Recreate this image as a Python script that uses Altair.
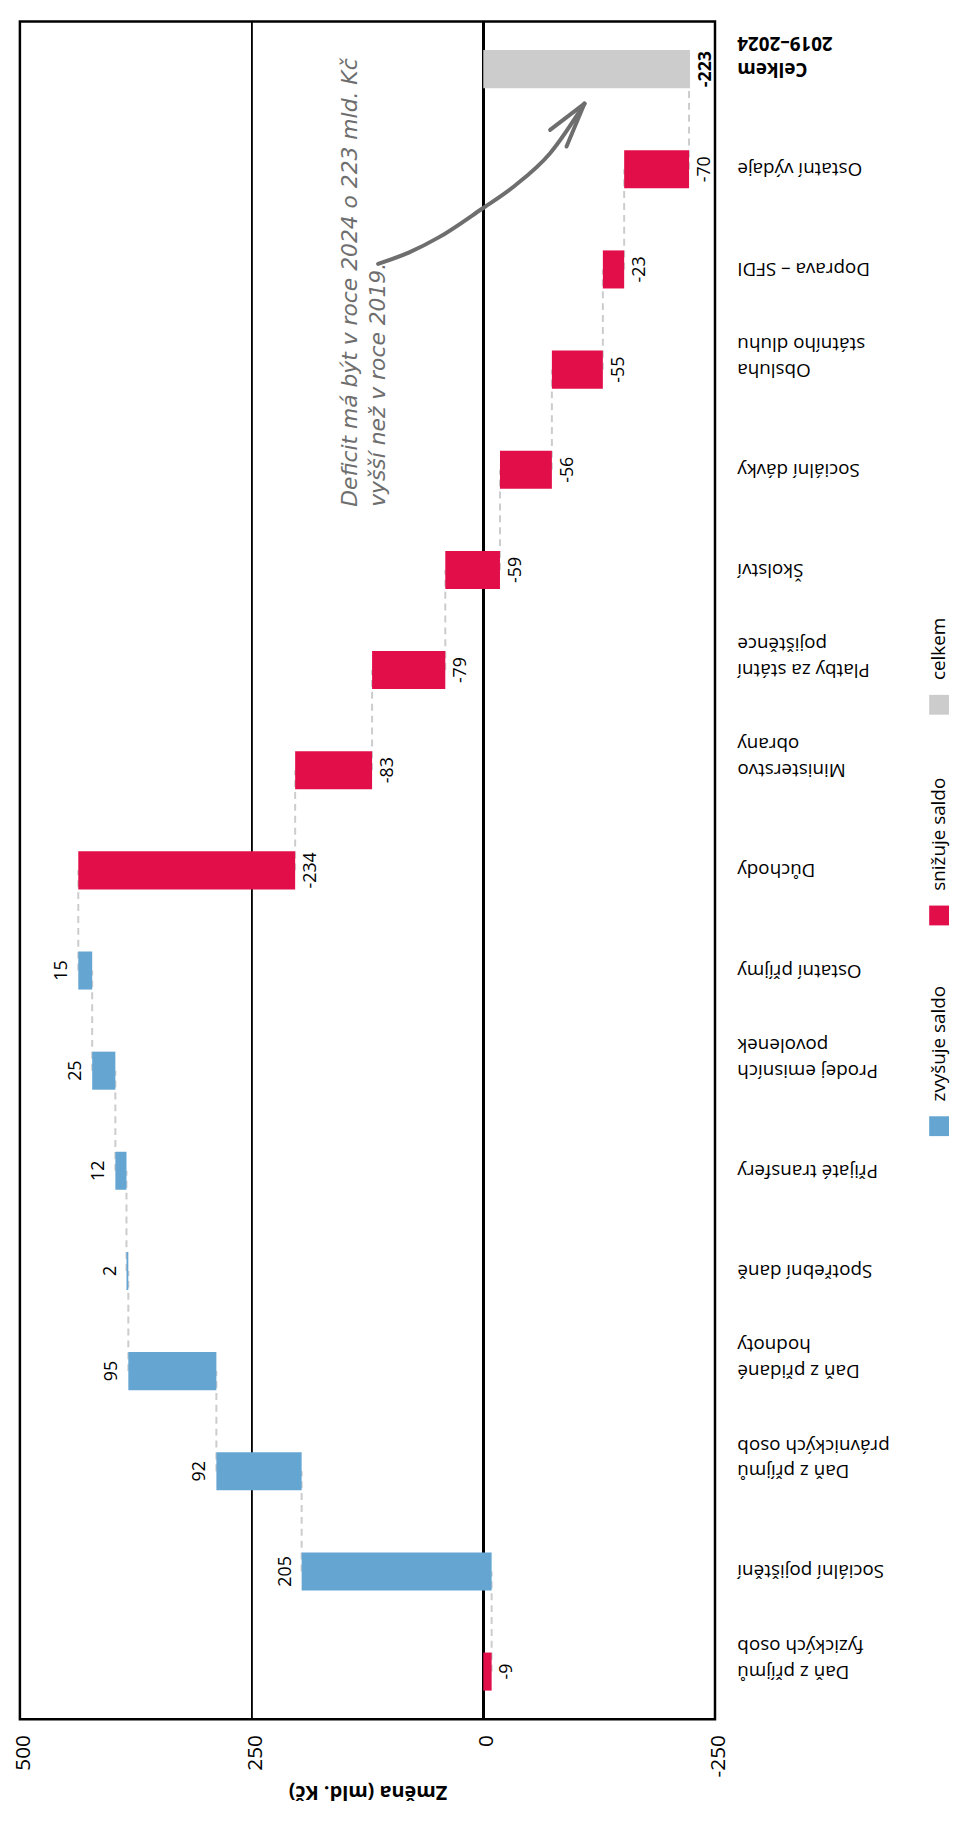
import altair as alt
import pandas as pd

FONT = "Open Sans"

# ---- data ----
categories = [
    "Daň z příjmů\nfyzických osob", "Sociální pojištění", "Daň z příjmů\nprávnických osob",
    "Daň z přidané\nhodnoty", "Spotřební daně", "Přijaté transfery",
    "Prodej emisních\npovolenek", "Ostatní příjmy", "Důchody", "Ministerstvo\nobrany",
    "Platby za státní\npojištěnce", "Školství", "Sociální dávky",
    "Obsluha\nstátního dluhu", "Doprava – SFDI", "Ostatní výdaje",
]
changes = [-9, 205, 92, 95, 2, 12, 25, 15, -234, -83, -79, -59, -56, -55, -23, -70]
total_label = "Celkem\n2019–2024"
total_value = -223

tick_values = [500, 250, 0, -250]
legend_labels = ["celkem", "snižuje saldo", "zvyšuje saldo"]
legend_colors = ["#cccccc", "#e20e4a", "#65a5d2"]
kind_domain = ["zvyšuje saldo", "snižuje saldo", "celkem"]
kind_range = ["#65a5d2", "#e20e4a", "#cccccc"]

note_text = "Deficit má být v roce 2024 o 223 mld. Kč|vyšší než v roce 2019."
note_value = [154]
note_pos = [4.37]
# annotation arrow (value, category-position)
arrow_seg = [0, 0, 0, 0, 0, 0, 0, 1, 1, 2, 2]
arrow_val = [113.5, 79.9, 48.1, 2.2, -33.3, -72.1, -109.2, -109.2, -72.1, -109.2, -89.8]
arrow_pos = [1.944, 1.829, 1.680, 1.399, 1.169, 0.839, 0.344, 0.344, 0.607, 0.344, 0.773]

# ---- build tables ----
rows = []
cum = 0
for c, d in zip(categories, changes):
    start = cum
    cum += d
    rows.append(dict(cat=c, delta=d, start=start, end=cum,
                     kind="zvyšuje saldo" if d > 0 else "snižuje saldo", label=str(d)))
rows.append(dict(cat=total_label, delta=total_value, start=0, end=total_value,
                 kind="celkem", label=str(total_value)))
df = pd.DataFrame(rows)
order_top = [r["cat"] for r in rows][::-1]

conn = pd.DataFrame([dict(cat=rows[i]["cat"], cat2=rows[i + 1]["cat"], x=rows[i]["end"])
                     for i in range(len(rows) - 1)])
arrow = pd.DataFrame(dict(seg=arrow_seg, v=arrow_val, p=arrow_pos, o=list(range(len(arrow_seg)))))
note = pd.DataFrame(dict(v=note_value, p=note_pos, t=[note_text]))
leg = pd.DataFrame(dict(item=legend_labels, col=legend_colors))
ticks = pd.DataFrame(dict(v=tick_values, t=[str(v) for v in tick_values]))

W, H = 701, 1712

xscale = alt.Scale(domain=[-250, 500], reverse=True, nice=False, zero=False)
xaxis = alt.Axis(values=tick_values, grid=False, ticks=False, tickSize=0, domain=False,
                 labels=False,
                 title="Změna (mld. Kč)", titleAngle=180, titleFontSize=20, titleFont=FONT,
                 titleFontWeight="bold", titleColor="#000", titlePadding=73,
                 titleBaseline="middle")

yaxis = alt.Axis(orient="right", title=None, ticks=False, tickSize=0, domain=False,
                 labelAngle=180, labelAlign="right", labelBaseline="middle",
                 labelFontSize=19, labelFont=FONT, labelColor="#000", labelPadding=22,
                 labelLineHeight=26, labelLimit=300,
                 labelExpr="split(datum.label, '\\n')",
                 labelFontWeight={"condition": {"test": "indexof(datum.value, 'Celkem') == 0",
                                                "value": "bold"}, "value": "normal"})
yscale = alt.Scale(paddingInner=0.62, paddingOuter=0.285)
Y = alt.Y("cat:N", sort=order_top, scale=yscale, axis=yaxis)

base = alt.Chart(df)

grid = alt.Chart(df).mark_rule(color="#000", strokeWidth=1).encode(
    x=alt.X(datum=tick_values[1], type="quantitative", scale=xscale, axis=xaxis))
zero = alt.Chart(df).mark_rule(color="#000", strokeWidth=2.5).encode(
    x=alt.X(datum=tick_values[2], type="quantitative"))

tick_labels = alt.Chart(ticks).mark_text(
    angle=270, align="right", baseline="middle", dy=4, fontSize=21, font=FONT, color="#000"
).encode(x=alt.X("v:Q"), y=alt.value(H + 16), text="t:N")

connectors = alt.Chart(conn).mark_rule(color="#cccccc", strokeWidth=2, strokeDash=[7, 5]).encode(
    x=alt.X("x:Q"), y=Y, y2="cat2:N")

bars = base.mark_bar().encode(
    x=alt.X("start:Q"), x2="end:Q", y=Y,
    color=alt.Color("kind:N", scale=alt.Scale(domain=kind_domain, range=kind_range), legend=None))

lbl_neg = base.transform_filter("datum.delta < 0 && datum.kind != 'celkem'").mark_text(
    angle=270, align="center", baseline="top", dy=7, fontSize=18, font=FONT, color="#000"
).encode(x="end:Q", y=Y, text="label:N")
lbl_pos = base.transform_filter("datum.delta > 0").mark_text(
    angle=270, align="center", baseline="bottom", dy=-7, fontSize=18, font=FONT, color="#000"
).encode(x="end:Q", y=Y, text="label:N")
lbl_tot = base.transform_filter("datum.kind == 'celkem'").mark_text(
    angle=270, align="center", baseline="top", dy=7, fontSize=18, font=FONT, color="#000",
    fontWeight="bold"
).encode(x="end:Q", y=Y, text="label:N")

main = alt.layer(grid, zero, connectors, bars, lbl_neg, lbl_pos, lbl_tot)

qy = alt.Scale(domain=[-0.475, 16.475], reverse=True, nice=False, zero=False)
arrow_layer = alt.Chart(arrow).mark_line(color="#6e6e6e", strokeWidth=4, strokeCap="round",
                                         strokeJoin="round", interpolate="monotone").encode(
    x=alt.X("v:Q"), y=alt.Y("p:Q", scale=qy, axis=None), detail="seg:N", order="o:Q")
note_layer = alt.Chart(note).transform_calculate(tt="split(datum.t, '|')").mark_text(
    angle=270, align="left", baseline="top", fontSize=22, font="DejaVu Sans", fontStyle="italic",
    color="#6e6e6e", lineHeight=28
).encode(x=alt.X("v:Q"), y=alt.Y("p:Q", scale=qy, axis=None), text="tt:N")
overlay = alt.layer(arrow_layer, note_layer, tick_labels)

leg_scale = alt.Scale(type="point", domain=legend_labels, range=[689, 1114], padding=0)
leg_sq = alt.Chart(leg).mark_square(size=400, opacity=1).encode(
    x=alt.value(927),
    y=alt.Y("item:N", axis=None, scale=leg_scale),
    fill=alt.Fill("col:N", scale=None), stroke=alt.value(None))
leg_tx = alt.Chart(leg).mark_text(angle=270, align="left", baseline="middle", dx=25,
                                  fontSize=19, font=FONT, color="#000").encode(
    x=alt.value(927),
    y=alt.Y("item:N", axis=None, scale=leg_scale),
    text="item:N")
legend = alt.layer(leg_sq, leg_tx)

chart = alt.layer(main, overlay, legend).resolve_scale(y="independent").properties(
    width=W, height=H,
    autosize=alt.AutoSizeParams(type="none"),
    padding={"left": 12, "top": 6, "right": 237, "bottom": 92},
).configure_view(stroke="#000", strokeWidth=2.5)

chart.save("out.html", embed_options={"renderer": "svg", "actions": False})
